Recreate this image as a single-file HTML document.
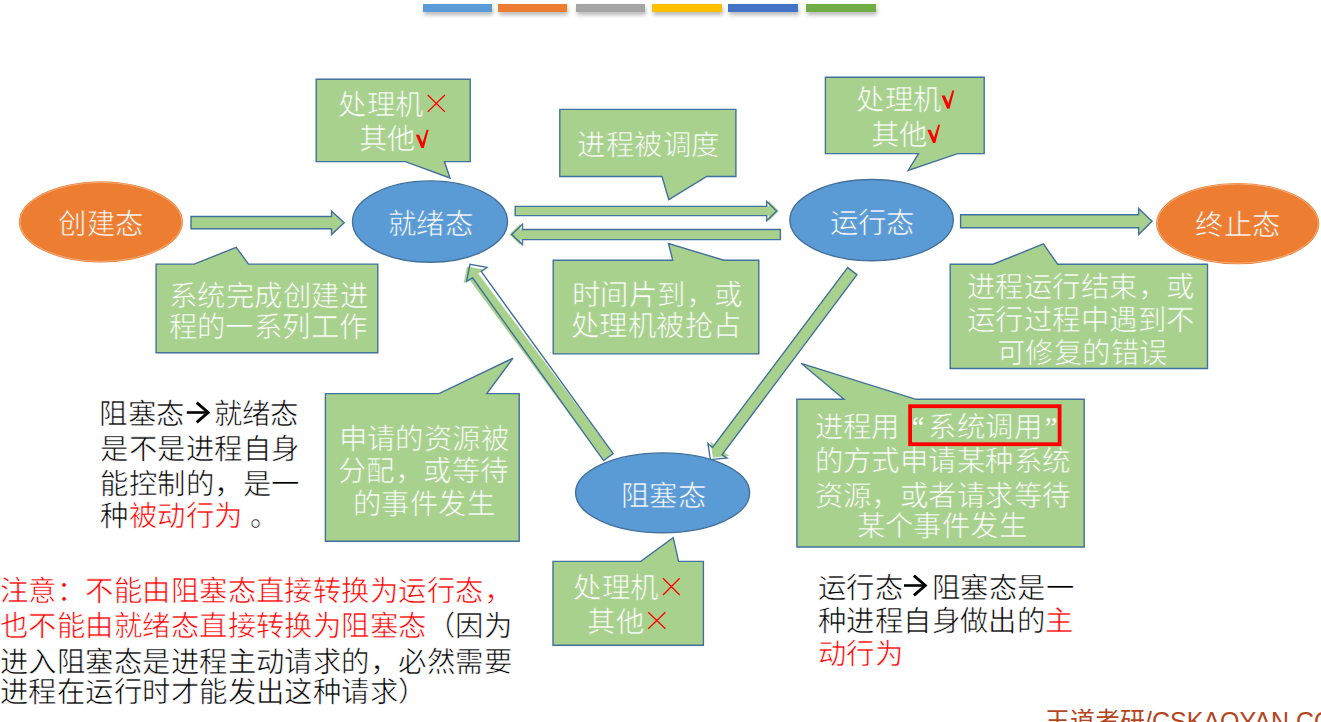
<!DOCTYPE html>
<html lang="zh-CN"><head><meta charset="utf-8"><title>进程状态转换</title>
<style>
html,body{margin:0;padding:0;background:#fff;}
body{width:1321px;height:722px;overflow:hidden;position:relative;font-family:"Liberation Serif",serif;}
svg{position:absolute;left:0;top:0;}
.t{position:absolute;font-size:28.4px;line-height:34px;white-space:nowrap;letter-spacing:0.45px;}
.r{color:#f00;}
.k{color:#000;}
.wm{position:absolute;left:1045px;top:704px;font-family:"Liberation Sans",sans-serif;font-size:25px;line-height:34px;color:#B5441A;white-space:nowrap;}
</style></head><body>
<svg width="1321" height="722" viewBox="0 0 1321 722">
<defs><filter id="sh" x="-20%" y="-100%" width="140%" height="400%"><feGaussianBlur stdDeviation="2"/></filter></defs>
<rect x="424" y="7" width="69" height="8" fill="#000" opacity="0.28" filter="url(#sh)"/>
<rect x="499" y="7" width="69" height="8" fill="#000" opacity="0.28" filter="url(#sh)"/>
<rect x="577" y="7" width="69" height="8" fill="#000" opacity="0.28" filter="url(#sh)"/>
<rect x="653" y="7" width="70" height="8" fill="#000" opacity="0.28" filter="url(#sh)"/>
<rect x="729" y="7" width="70" height="8" fill="#000" opacity="0.28" filter="url(#sh)"/>
<rect x="807" y="7" width="70" height="8" fill="#000" opacity="0.28" filter="url(#sh)"/>
<rect x="423" y="4" width="69" height="8" fill="#5B9BD5"/>
<rect x="498" y="4" width="69" height="8" fill="#ED7D31"/>
<rect x="576" y="4" width="69" height="8" fill="#A5A5A5"/>
<rect x="652" y="4" width="70" height="8" fill="#FFC000"/>
<rect x="728" y="4" width="70" height="8" fill="#4472C4"/>
<rect x="806" y="4" width="70" height="8" fill="#70AD47"/>
<path d="M316.2,79.2 H470.2 V161.6 H444.4 L450,178 L405.4,161.6 H316.2 Z" fill="#A9D18E" stroke="#41719C" stroke-width="1.4" stroke-linejoin="miter"/>
<path d="M559.8,109.4 H735.9 V176.5 H706.7 L668.8,199.6 L662,176.5 H559.8 Z" fill="#A9D18E" stroke="#41719C" stroke-width="1.4" stroke-linejoin="miter"/>
<path d="M825.4,77.2 H984.2 V153.6 H957.6 L908.2,170.4 L918.5,153.6 H825.4 Z" fill="#A9D18E" stroke="#41719C" stroke-width="1.4" stroke-linejoin="miter"/>
<path d="M156.1,264.1 H194.1 L236.2,247.4 L248.5,264.1 H377.8 V352.8 H156.1 Z" fill="#A9D18E" stroke="#41719C" stroke-width="1.4" stroke-linejoin="miter"/>
<path d="M553.2,260.2 H672.7 L668.5,243.5 L723.8,260.2 H758.8 V353.9 H553.2 Z" fill="#A9D18E" stroke="#41719C" stroke-width="1.4" stroke-linejoin="miter"/>
<path d="M950.2,264.2 H993 L1043.4,243.9 L1057.6,264.2 H1207.5 V368.5 H950.2 Z" fill="#A9D18E" stroke="#41719C" stroke-width="1.4" stroke-linejoin="miter"/>
<path d="M325.4,393.6 H439 L513,358.2 L486.8,393.6 H519.2 V541.3 H325.4 Z" fill="#A9D18E" stroke="#41719C" stroke-width="1.4" stroke-linejoin="miter"/>
<path d="M796.9,399.3 H844 L801.1,363.3 L916,399.3 H1084.2 V547 H796.9 Z" fill="#A9D18E" stroke="#41719C" stroke-width="1.4" stroke-linejoin="miter"/>
<path d="M553,561.4 H640.8 L673.2,537.6 L678.6,561.4 H703.4 V645.2 H553 Z" fill="#A9D18E" stroke="#41719C" stroke-width="1.4" stroke-linejoin="miter"/>
<ellipse cx="100.9" cy="221.9" rx="82" ry="40.6" fill="#ED7D31"/><ellipse cx="100.9" cy="221.9" rx="80.9" ry="39.5" fill="none" stroke="#F4B183" stroke-width="0.9"/>
<ellipse cx="430" cy="221.6" rx="77.5" ry="40.7" fill="#5B9BD5" stroke="#41719C" stroke-width="1.4"/>
<ellipse cx="871.6" cy="220.1" rx="81.7" ry="40.6" fill="#5B9BD5" stroke="#41719C" stroke-width="1.4"/>
<ellipse cx="1237.7" cy="223.6" rx="81.6" ry="40.7" fill="#ED7D31"/><ellipse cx="1237.7" cy="223.6" rx="80.5" ry="39.6" fill="none" stroke="#F4B183" stroke-width="0.9"/>
<ellipse cx="662.6" cy="492.8" rx="87" ry="39.9" fill="#5B9BD5" stroke="#41719C" stroke-width="1.4"/>
<path d="M613.2,453.6 L478.2,273.5 L484,269.4 L467,266.4 L463.6,283.4 L469.5,279.8 L603.6,460.6 Z" fill="#A9D18E"/>
<path d="M515.2,206.4 H768.7 V200.7 L778.9,210.9 L768.7,221.3 V215.6 H515.2 Z" fill="#A9D18E"/>
<path d="M780.4,229.5 H520.5 V223.6 L509.4,234.5 L520.5,245.3 V239.6 H780.4 Z" fill="#A9D18E"/>
<path d="M847.6,267.6 L712.5,447.5 L722,454.8 L857,274.6 Z" fill="#A9D18E"/>
<path d="M715,445.5 L710.4,441.6 L712.9,457.6 L729.5,456 L724.5,452.8 Z" fill="#A9D18E"/>
<path d="M191,216.5 H331.5 V211.2 L344.2,222.7 L331.5,234.6 V228.8 H191 Z" fill="#A9D18E" stroke="#41719C" stroke-width="1.4" stroke-linejoin="miter"/>
<path d="M515.2,206.4 H766.7 V201.4 L776.6,210.9 L766.7,220.6 V215.6 H515.2 Z" fill="none" stroke="#41719C" stroke-width="1.4" stroke-linejoin="miter"/>
<path d="M780.4,229.5 H522.5 V224.3 L511.7,234.5 L522.5,244.6 V239.6 H780.4 Z" fill="none" stroke="#41719C" stroke-width="1.4" stroke-linejoin="miter"/>
<path d="M960.6,214.7 H1138.6 V208.4 L1152,221.3 L1138.6,234.5 V227.7 H960.6 Z" fill="#A9D18E" stroke="#41719C" stroke-width="1.4" stroke-linejoin="miter"/>
<path d="M613.2,453.6 L481.2,271.5 L487,267.4 L470,264.4 L466.6,281.4 L472.5,277.8 L603.6,460.6 Z" fill="none" stroke="#41719C" stroke-width="1.4" stroke-linejoin="miter"/>
<path d="M847.6,267.6 L712.5,447.5 L707.9,443.6 L710.4,459.6 L727,458 L722,454.8 L857,274.6 Z" fill="none" stroke="#41719C" stroke-width="1.4" stroke-linejoin="miter"/>
<rect x="910.1" y="406.2" width="149.5" height="38" fill="none" stroke="#FF0000" stroke-width="3.8"/>
<path d="M427.7,95 L444.9,111.9 M444.9,95 L427.7,111.9" stroke="#FF0000" stroke-width="1.3" fill="none"/>
<path d="M663,578.2 L679.7,595 M679.7,578.2 L663,595" stroke="#FF0000" stroke-width="1.3" fill="none"/>
<path d="M648.2,612.2 L665.4,628.8 M665.4,612.2 L648.2,628.8" stroke="#FF0000" stroke-width="1.3" fill="none"/>
<path d="M415.8,134.8 L419.1,134.8 L422.6,142.7 L426.6,129.8 L428.6,129.8 L423.8,148.0 L421.4,148.0 Z" fill="#FF0000"/>
<path d="M941.5,95.5 L944.8,95.5 L948.3,103.4 L952.3,90.5 L954.3,90.5 L949.5,108.7 L947.1,108.7 Z" fill="#FF0000"/>
<path d="M927.3,129.7 L930.6,129.7 L934.1,137.6 L938.1,124.7 L940.1,124.7 L935.3,142.9 L932.9,142.9 Z" fill="#FF0000"/>
<path d="M186.8,412.5 H207.3" stroke="#000" stroke-width="2.6" fill="none"/><path d="M196.70000000000002,402.7 L208.10000000000002,412.5 L196.70000000000002,422.3" stroke="#000" stroke-width="2.9" fill="none" stroke-linejoin="miter"/>
<path d="M904,585.5 H924.5" stroke="#000" stroke-width="2.6" fill="none"/><path d="M913.9,575.7 L925.3,585.5 L913.9,595.3" stroke="#000" stroke-width="2.9" fill="none" stroke-linejoin="miter"/>
</svg>
<div class="t" style="left:58.3px;top:207.9px;color:#fff;-webkit-text-stroke:0.6px #ED7D31;">创建态</div>
<div class="t" style="left:387.7px;top:208.2px;color:#fff;-webkit-text-stroke:0.6px #5B9BD5;">就绪态</div>
<div class="t" style="left:829.6px;top:206.5px;color:#fff;-webkit-text-stroke:0.6px #5B9BD5;">运行态</div>
<div class="t" style="left:1195.3px;top:208.7px;color:#fff;-webkit-text-stroke:0.6px #ED7D31;">终止态</div>
<div class="t" style="left:620.8px;top:479.6px;color:#fff;-webkit-text-stroke:0.6px #5B9BD5;">阻塞态</div>
<div class="t" style="left:338.2px;top:89.4px;color:#fff;-webkit-text-stroke:0.6px #A9D18E;">处理机</div>
<div class="t" style="left:359.0px;top:123.2px;color:#fff;-webkit-text-stroke:0.6px #A9D18E;">其他</div>
<div class="t" style="left:577.4px;top:129.4px;color:#fff;-webkit-text-stroke:0.6px #A9D18E;">进程被调度</div>
<div class="t" style="left:856.2px;top:84.2px;color:#fff;-webkit-text-stroke:0.6px #A9D18E;">处理机</div>
<div class="t" style="left:870.5px;top:118.5px;color:#fff;-webkit-text-stroke:0.6px #A9D18E;">其他</div>
<div class="t" style="left:169.0px;top:280.3px;color:#fff;-webkit-text-stroke:0.6px #A9D18E;">系统完成创建进</div>
<div class="t" style="left:168.5px;top:311.3px;color:#fff;-webkit-text-stroke:0.6px #A9D18E;">程的一系列工作</div>
<div class="t" style="left:571.8px;top:278.8px;color:#fff;-webkit-text-stroke:0.6px #A9D18E;">时间片到，或</div>
<div class="t" style="left:570.9px;top:310.4px;color:#fff;-webkit-text-stroke:0.6px #A9D18E;">处理机被抢占</div>
<div class="t" style="left:966.9px;top:270.9px;color:#fff;-webkit-text-stroke:0.6px #A9D18E;">进程运行结束，或</div>
<div class="t" style="left:966.9px;top:303.7px;color:#fff;-webkit-text-stroke:0.6px #A9D18E;">运行过程中遇到不</div>
<div class="t" style="left:996.8px;top:337.1px;color:#fff;-webkit-text-stroke:0.6px #A9D18E;">可修复的错误</div>
<div class="t" style="left:338.6px;top:423.1px;color:#fff;-webkit-text-stroke:0.6px #A9D18E;">申请的资源被</div>
<div class="t" style="left:337.9px;top:455.3px;color:#fff;-webkit-text-stroke:0.6px #A9D18E;">分配，或等待</div>
<div class="t" style="left:353.0px;top:487.7px;color:#fff;-webkit-text-stroke:0.6px #A9D18E;">的事件发生</div>
<div class="t" style="left:814.5px;top:410.8px;color:#fff;-webkit-text-stroke:0.6px #A9D18E;">进程用<span style="display:inline-block;width:28.4px;text-align:right"><span style="position:relative;left:-3.5px;-webkit-text-stroke:0">“</span></span>系统调用<span style="display:inline-block;width:28.4px;text-align:center"><span style="position:relative;left:-5px;-webkit-text-stroke:0">”</span></span></div>
<div class="t" style="left:814.6px;top:445.1px;color:#fff;-webkit-text-stroke:0.6px #A9D18E;">的方式申请某种系统</div>
<div class="t" style="left:814.6px;top:479.7px;color:#fff;-webkit-text-stroke:0.6px #A9D18E;">资源，或者请求等待</div>
<div class="t" style="left:856.5px;top:510.2px;color:#fff;-webkit-text-stroke:0.6px #A9D18E;">某个事件发生</div>
<div class="t" style="left:573.2px;top:572.2px;color:#fff;-webkit-text-stroke:0.6px #A9D18E;">处理机</div>
<div class="t" style="left:587.2px;top:605.9px;color:#fff;-webkit-text-stroke:0.6px #A9D18E;">其他</div>
<div class="t" style="left:99.4px;top:398.4px;color:#000;-webkit-text-stroke:0.6px #fff;">阻塞态</div>
<div class="t" style="left:213.6px;top:398.4px;color:#000;-webkit-text-stroke:0.6px #fff;">就绪态</div>
<div class="t" style="left:100.4px;top:432.7px;color:#000;-webkit-text-stroke:0.6px #fff;">是不是进程自身</div>
<div class="t" style="left:100.4px;top:467.5px;color:#000;-webkit-text-stroke:0.6px #fff;">能控制的，是一</div>
<div class="t" style="left:100.4px;top:499.6px;color:#000;-webkit-text-stroke:0.6px #fff;">种<span class="r">被动行为</span> 。</div>
<div class="t" style="left:0.0px;top:574.6px;color:#f00;-webkit-text-stroke:0.6px #fff;">注意：不能由阻塞态直接转换为运行态，</div>
<div class="t" style="left:0.0px;top:609.9px;color:#f00;-webkit-text-stroke:0.6px #fff;">也不能由就绪态直接转换为阻塞态<span class="k">（因为</span></div>
<div class="t" style="left:0.0px;top:645.7px;color:#000;-webkit-text-stroke:0.6px #fff;">进入阻塞态是进程主动请求的，必然需要</div>
<div class="t" style="left:0.0px;top:676.4px;color:#000;-webkit-text-stroke:0.6px #fff;">进程在运行时才能发出这种请求）</div>
<div class="t" style="left:817.8px;top:571.5px;color:#000;-webkit-text-stroke:0.6px #fff;">运行态</div>
<div class="t" style="left:931.8px;top:571.5px;color:#000;-webkit-text-stroke:0.6px #fff;">阻塞态是一</div>
<div class="t" style="left:817.8px;top:605.4px;color:#000;-webkit-text-stroke:0.6px #fff;">种进程自身做出的<span class="r">主</span></div>
<div class="t" style="left:817.8px;top:638.2px;color:#f00;-webkit-text-stroke:0.6px #fff;">动行为</div>
<div class="wm">王道考研/CSKAOYAN.COM</div>
</body></html>
